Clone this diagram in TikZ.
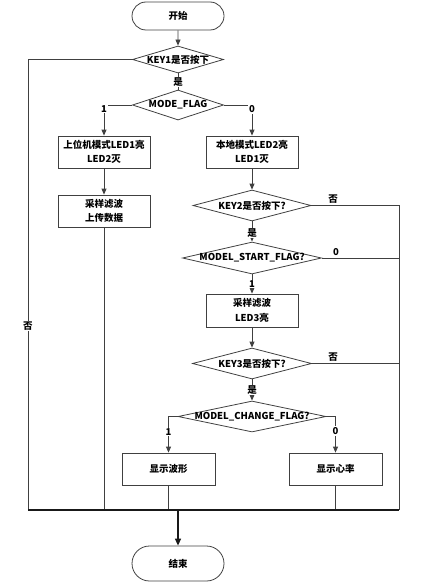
\documentclass[tikz,border=0pt]{standalone}
\usepackage{fontspec}
\setmainfont{Noto Sans CJK SC}
\usetikzlibrary{shapes.geometric,shapes.misc,arrows.meta}
\begin{document}
\begin{tikzpicture}[x=1pt,y=-1pt,
  font=\fontsize{9.5}{14.5}\selectfont\bfseries,
  line/.style={draw=black!75,line width=0.8pt},
  arr/.style={line,-{Triangle[width=5pt,length=6pt]}},
  thick line/.style={draw=black!90,line width=1.3pt},
  term/.style={rounded rectangle,draw=black!75,line width=0.8pt,minimum width=92pt,minimum height=28pt,inner sep=0pt},
  proc/.style={rectangle,draw=black!75,line width=0.8pt,minimum width=92pt,minimum height=32pt,inner sep=0pt,align=center},
  dia/.style={diamond,draw=black!75,line width=0.8pt,inner sep=0pt},
  txt/.style={inner sep=0pt,align=center},
  lbl/.style={fill=white,inner sep=1pt}]
\useasboundingbox (0,0) rectangle (427,583);
% terminals
\node[term] (start) at (178,16) {开始};
\node[term,minimum height=35pt] (stop) at (178,563.5) {结束};
% diamonds
\node[dia,minimum width=91pt,minimum height=27pt] (d1) at (178,59.5) {};
\node[txt] (t1) at (d1) {KEY1是否按下};
\node[dia,minimum width=91pt,minimum height=30pt] (d2) at (178,105) {};
\node[txt] (t2) at (d2) {MODE\_FLAG};
\node[dia,minimum width=118pt,minimum height=31pt] (d3) at (252,205.5) {};
\node[txt] (t3) at (d3) {KEY2是否按下?};
\node[dia,minimum width=139pt,minimum height=32pt] (d4) at (252,258) {};
\node[txt] (t4) at (d4) {MODEL\_START\_FLAG?};
\node[dia,minimum width=119pt,minimum height=31pt] (d5) at (252,363.5) {};
\node[txt] (t5) at (d5) {KEY3是否按下?};
\node[dia,minimum width=148pt,minimum height=31pt] (d6) at (252,416.5) {};
\node[txt] (t6) at (d6) {MODEL\_CHANGE\_FLAG?};
% process boxes
\node[proc] (b1) at (104,152) {上位机模式LED1亮\\LED2灭};
\node[proc] (b2) at (252,152) {本地模式LED2亮\\LED1灭};
\node[proc] (b3) at (104,211) {采样滤波\\上传数据};
\node[proc,minimum height=33pt] (b4) at (252,310.5) {采样滤波\\LED3亮};
\node[proc,minimum width=93pt] (b5) at (168.5,469) {显示波形};
\node[proc,minimum width=93pt] (b6) at (335.5,469) {显示心率};
% coordinates
\coordinate (mL) at (28,510);
\coordinate (mR) at (399,510);
\coordinate (mC) at (178,510);
\coordinate (rTop) at (399,205.5);
\coordinate (lTop) at (28,59.5);
% connectors
\draw[arr] (start) -- (d1);
\draw[line] (d1.west) -- (lTop) -- (mL);
\node[lbl] (no1) at (28,326) {否};
\draw[line] (d1.south) -- (d2.north);
\node[lbl] (yes1) at (178,82) {是};
\draw[arr] (d2.west) -| (b1.north);
\node[lbl] (one1) at (104,109) {1};
\draw[arr] (d2.east) -| (b2.north);
\node[lbl] (zero1) at (252,109) {0};
\draw[arr] (b1) -- (b3);
\draw[line] (b3.south) -- (b3.south |- mL);
\draw[arr] (b2) -- (d3);
\draw[line] (d3.east) -- (rTop) -- (mR);
\node[inner sep=1pt] (no2) at (333,199) {否};
\draw[arr] (d3.south) -- (d4.north);
\node[lbl] (yes2) at (252,233) {是};
\draw[line] (d4.east) -- (d4.east -| mR);
\node[inner sep=1pt] (zero2) at (336,252) {0};
\draw[arr] (d4.south) -- (b4.north);
\node[lbl] (one2) at (252,284) {1};
\draw[arr] (b4) -- (d5);
\draw[line] (d5.east) -- (d5.east -| mR);
\node[inner sep=1pt] (no3) at (333,357.5) {否};
\draw[arr] (d5.south) -- (d6.north);
\node[lbl] (yes3) at (252,390) {是};
\draw[arr] (d6.west) -| (b5.north);
\node[lbl] (one3) at (168.5,432) {1};
\draw[arr] (d6.east) -| (b6.north);
\node[lbl] (zero3) at (335.5,431) {0};
\draw[line] (b5.south) -- (b5.south |- mL);
\draw[line] (b6.south) -- (b6.south |- mL);
\draw[thick line] (mL) -- (mR);
\draw[thick line,-{Triangle[width=6pt,length=7pt]}] (mC) -- (stop.north);
\end{tikzpicture}
\end{document}
